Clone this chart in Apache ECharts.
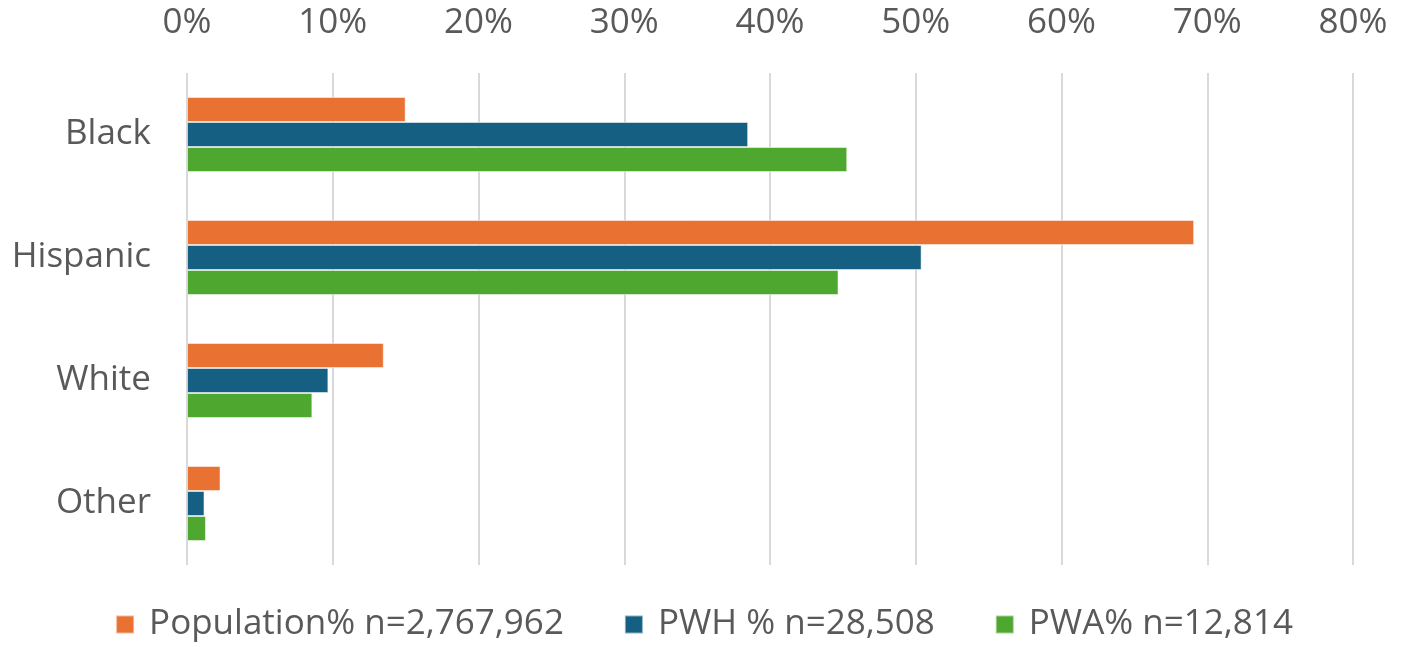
<!DOCTYPE html>
<html>
<head>
<meta charset="utf-8">
<script src="https://cdn.jsdelivr.net/npm/echarts@6/dist/echarts.min.js"></script>
<style>
html,body{margin:0;padding:0;background:#fff;}
#chart{width:1408px;height:647px;}
</style>
</head>
<body>
<div id="chart"></div>
<script>
var categories = ['Black', 'Hispanic', 'White', 'Other'];
var seriesNames = ['Population% n=2,767,962', 'PWH % n=28,508', 'PWA% n=12,814'];
var population = [15.0, 69.1, 13.5, 2.3];
var pwh = [38.5, 50.4, 9.7, 1.2];
var pwa = [45.3, 44.7, 8.6, 1.3];
var colors = ['#E97132', '#156082', '#4EA72E'];

var font = 'Open Sans';
var chart = echarts.init(document.getElementById('chart'));
function mk(name, data, color) {
  return {
    name: name, type: 'bar', data: data,
    barWidth: 25, barGap: '0%', barCategoryGap: '39%',
    itemStyle: { color: color, borderColor: 'rgba(255,255,255,0.5)', borderWidth: 1 },
    animation: false
  };
}
chart.setOption({
  animation: false,
  color: colors,
  grid: { left: 187, right: 55, top: 73, bottom: 82, containLabel: false },
  xAxis: {
    type: 'value', position: 'top', min: 0, max: 80, interval: 10,
    axisLine: { show: false }, axisTick: { show: false },
    axisLabel: { formatter: '{value}%', color: '#595959', fontSize: 35, fontFamily: font, margin: 32 },
    splitLine: { show: true, lineStyle: { color: '#D9D9D9', width: 2 } }
  },
  yAxis: {
    type: 'category', data: categories, inverse: true,
    axisLine: { show: false }, axisTick: { show: false },
    axisLabel: { color: '#595959', fontSize: 35, fontFamily: font, margin: 36 }
  },
  legend: {
    bottom: 0, left: 'center', itemWidth: 18, itemHeight: 18, itemGap: 60,
    icon: 'rect',
    textStyle: { color: '#595959', fontSize: 35, fontFamily: font, padding: [0, 0, 0, 10] },
    data: seriesNames
  },
  series: [mk(seriesNames[0], population, colors[0]), mk(seriesNames[1], pwh, colors[1]), mk(seriesNames[2], pwa, colors[2])]
});
</script>
</body>
</html>
